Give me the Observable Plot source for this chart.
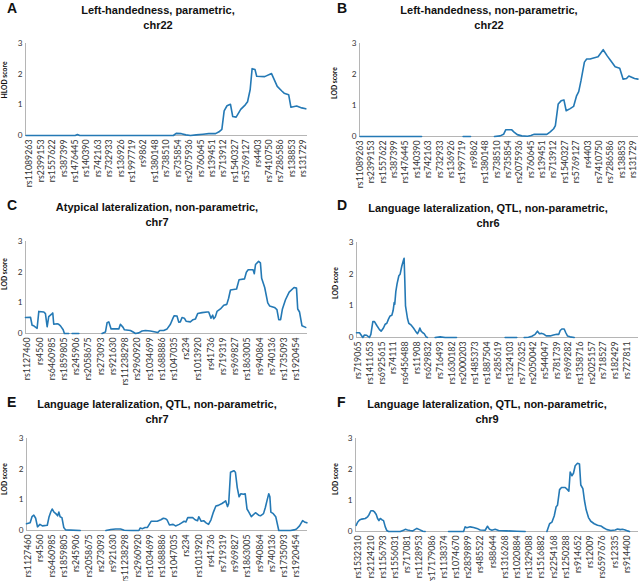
<!DOCTYPE html>
<html><head><meta charset="utf-8">
<script src="https://cdn.jsdelivr.net/npm/d3@7"></script>
<script src="https://cdn.jsdelivr.net/npm/@observablehq/plot@0.6"></script>
<style>
body{margin:0;background:#fff;}
#wrap{position:relative;width:640px;height:581px;overflow:hidden;background:#fff;}
</style></head>
<body><div id="wrap"></div>
<script>
// ---- tick labels (SNP names) ----
const labelsAB = ["rs11089263","rs2399153","rs1557622","rs387399","rs1476445","rs140390","rs742163","rs732933","rs136926","rs1997719","rs9862","rs1380148","rs738510","rs735854","rs2075936","rs760645","rs139451","rs713912","rs1540327","rs5769127","rs4403","rs7410750","rs7286586","rs138853","rs131729"];
const labelsCE = ["rs1127460","rs4560","rs6460985","rs1859805","rs245906","rs2058675","rs273093","rs921630","rs11238298","rs2960920","rs1034699","rs1688886","rs1047035","rs234","rs1013920","rs41736","rs719319","rs969827","rs1863005","rs940864","rs740136","rs1735093","rs1920454"];
const labelsD = ["rs719065","rs1411653","rs6925615","rs74111","rs6456488","rs11908","rs629832","rs716493","rs1630182","rs2000203","rs1485373","rs1887504","rs285619","rs1324103","rs7776325","rs2050042","rs544047","rs781739","rs969282","rs1358716","rs2025157","rs718527","rs182429","rs727811"];
const labelsF = ["rs1532310","rs2124210","rs1156793","rs1556031","rs717081","rs1128953","rs17179086","rs1138374","rs1074670","rs2839899","rs485522","rs88644","rs1316268","rs1020884","rs1329088","rs1516882","rs2254168","rs1250288","rs914652","rs12009","rs6597676","rs12335","rs914400"];
const yTicks = [0, 1, 2, 3];

// ---- series: [marker position (in labelled-SNP units), score]; NaN = no data ----
const lodA = [[-0.3,0],[4.0,0],[4.2,0.03],[4.4,0],[12.6,0],[12.85,0.07],[13.3,0.06],[13.7,0.02],[14.1,0],[14.6,0.02],[15.2,0.04],[15.7,0.06],[16.3,0.06],[16.6,0.12],[16.85,0.2],[17.05,0.8],[17.3,0.97],[17.6,1.02],[17.8,0.62],[18.1,0.6],[18.5,0.85],[18.9,1.0],[19.1,1.1],[19.33,1.5],[19.5,2.18],[19.75,2.15],[19.9,1.93],[20.6,1.92],[21.2,2.02],[21.7,1.6],[22.1,1.45],[22.3,1.38],[22.7,1.33],[22.9,0.92],[23.4,0.96],[23.85,0.9],[24.2,0.87]];
const lodB = [[0,0],[5.4,0],[7,NaN],[9.05,0],[9.7,0],[10.7,NaN],[11.8,0],[12.3,0.02],[12.6,0.07],[12.8,0.22],[13.3,0.22],[13.5,0.15],[13.8,0.06],[14.2,0.02],[14.7,0.01],[15.0,0.03],[15.3,0.07],[16.4,0.07],[16.7,0.15],[17.0,0.25],[17.15,0.35],[17.4,1.05],[17.65,1.15],[17.9,1.18],[18.1,0.83],[18.45,0.9],[18.75,0.97],[19.0,1.3],[19.2,1.45],[19.4,1.8],[19.7,2.4],[19.9,2.5],[20.2,2.5],[20.5,2.53],[20.9,2.57],[21.35,2.8],[21.7,2.6],[22.0,2.45],[22.4,2.25],[22.8,2.2],[23.1,1.85],[23.4,1.87],[23.6,1.95],[24.1,1.87],[24.4,1.85]];
const lodC = [[-0.16,0.52],[0.25,0.53],[0.38,0.27],[0.52,0.25],[0.79,0.17],[0.93,0.72],[1.34,0.7],[1.47,0.65],[1.61,0.22],[1.74,0.55],[2.02,0.65],[2.07,0.67],[2.15,0.3],[2.43,0.32],[2.56,0.3],[2.7,0.25],[2.92,0.12],[3.02,0],[3.38,0],[3.5,NaN],[3.65,0],[4.2,0],[5.0,NaN],[6.1,0],[6.38,0.05],[6.51,0.35],[6.65,0.38],[6.84,0.15],[7.47,0.15],[7.6,0.3],[7.82,0.2],[7.93,0.12],[8.42,0.1],[8.64,0.05],[8.83,0],[9.1,0.02],[9.37,0.08],[9.65,0.1],[10.05,0.08],[10.46,0.05],[10.65,0.03],[10.82,0.1],[11.14,0.1],[11.42,0.15],[11.69,0.3],[11.9,0.5],[12.0,0.58],[12.23,0.57],[12.37,0.37],[12.5,0.38],[12.64,0.52],[12.83,0.5],[12.97,0.4],[13.32,0.38],[13.54,0.45],[13.73,0.47],[13.92,0.65],[14.28,0.68],[14.69,0.7],[14.82,0.7],[15.01,0.5],[15.15,0.6],[15.23,0.48],[15.37,0.55],[15.5,0.72],[15.78,0.8],[16.05,0.92],[16.3,0.95],[16.45,1.15],[16.6,1.42],[17.1,1.45],[17.3,1.75],[17.75,1.78],[17.9,2.0],[18.05,2.08],[18.45,2.08],[18.55,1.95],[18.65,2.25],[18.9,2.35],[19.05,2.3],[19.15,1.8],[19.4,1.5],[19.65,1.0],[19.8,0.9],[20.2,0.85],[20.4,0.78],[20.55,0.45],[20.7,0.45],[20.85,0.8],[21.1,1.1],[21.4,1.35],[21.8,1.5],[22.0,1.48],[22.1,0.8],[22.25,0.7],[22.45,0.25],[22.75,0.2]];
const lodD = [[-0.17,0.15],[0.09,0.15],[0.37,0],[0.51,0.08],[0.71,0.07],[0.94,0],[1.06,0.1],[1.23,0.5],[1.37,0.5],[1.57,0.38],[1.8,0.25],[1.94,0.2],[2.14,0.3],[2.29,0.42],[2.43,0.45],[2.57,0.58],[2.71,0.68],[2.86,0.7],[2.97,0.85],[3.06,1.1],[3.11,1.05],[3.2,1.45],[3.31,1.7],[3.46,1.95],[3.57,2.0],[3.71,2.25],[3.86,2.45],[3.91,2.5],[3.97,1.8],[4.03,1.0],[4.2,0.6],[4.31,0.45],[4.49,0.4],[4.71,0.3],[4.89,0.2],[5.06,0.12],[5.17,0.2],[5.26,0.3],[5.37,0.2],[5.51,0.15],[5.63,0.12],[5.8,0.02],[5.91,0],[6.2,NaN],[6.57,0],[7.0,0.02],[7.43,0],[8.4,0],[10,NaN],[12.57,0],[13.57,0],[14.0,NaN],[14.2,0],[14.57,0.01],[14.86,0.04],[15.14,0.1],[15.34,0.2],[15.51,0.12],[15.71,0.13],[15.91,0.1],[16.09,0.05],[16.43,0.05],[16.71,0.08],[17.0,0.1],[17.17,0.1],[17.29,0.22],[17.43,0.27],[17.63,0.27],[17.77,0.15],[17.91,0.05],[18.14,0.02],[18.49,0]];
const lodE = [[-0.1,0.22],[0.2,0.25],[0.35,0.45],[0.5,0.5],[0.65,0.4],[0.8,0.12],[1.0,0.2],[1.2,0.15],[1.6,0.17],[1.75,0.45],[1.9,0.62],[2.0,0.7],[2.15,0.6],[2.3,0.55],[2.45,0.48],[2.55,0.6],[2.65,0.45],[2.8,0.42],[2.95,0.1],[3.1,0.02],[4.3,0],[5.5,NaN],[6.4,0],[6.8,0.03],[7.2,0.05],[7.6,0.05],[7.9,0.01],[8.5,0],[9.1,0],[9.2,0.08],[9.4,0.06],[9.6,0.1],[9.8,0.1],[10.1,0.3],[10.6,0.3],[10.9,0.35],[11.1,0.4],[11.3,0.38],[11.4,0.35],[11.6,0.18],[11.9,0.2],[12.1,0.15],[12.4,0.2],[12.6,0.25],[12.8,0.3],[12.95,0.28],[13.1,0.42],[13.5,0.42],[13.7,0.35],[13.9,0.32],[14.0,0.45],[14.2,0.3],[14.4,0.32],[14.6,0.25],[14.8,0.2],[15.0,0.35],[15.2,0.6],[15.4,0.8],[15.6,0.82],[15.9,0.88],[16.05,0.92],[16.2,0.97],[16.35,0.78],[16.45,0.88],[16.6,1.9],[16.87,1.95],[17.0,1.9],[17.15,1.4],[17.3,1.1],[17.45,1.2],[17.65,1.18],[17.8,1.2],[17.95,0.7],[18.1,0.6],[18.3,0.45],[18.64,0.58],[18.9,0.5],[19.05,0.48],[19.3,0.55],[19.45,0.75],[19.6,1.0],[19.73,1.2],[19.82,1.1],[19.9,0.6],[20.1,0.55],[20.3,0.45],[20.55,0],[21.0,0],[21.5,0],[21.8,0.02],[22.0,0.05],[22.25,0.15],[22.5,0.32],[22.65,0.28],[22.85,0.25]];
const lodF = [[-0.19,0.2],[-0.08,0.3],[0.08,0.37],[0.27,0.4],[0.55,0.42],[0.74,0.47],[0.87,0.55],[1.01,0.67],[1.17,0.67],[1.31,0.63],[1.45,0.55],[1.56,0.42],[1.67,0.35],[1.78,0.42],[1.91,0.38],[2.05,0.35],[2.19,0.15],[2.32,0.03],[2.46,0],[3.42,0],[3.69,0.04],[3.83,0.07],[4.02,0.05],[4.23,0.03],[4.45,0.02],[4.64,0.07],[4.78,0.1],[5.0,0.06],[5.27,0.01],[5.46,0],[6.5,NaN],[7.38,0],[8.61,0],[8.74,0.15],[8.88,0.12],[9.15,0.15],[9.43,0.13],[9.7,0.1],[9.97,0.05],[10.38,0.04],[10.57,0.17],[10.74,0.07],[10.93,0.04],[11.2,0.07],[11.48,0.03],[12.16,0.02],[12.98,0.01],[13.66,0],[14.5,NaN],[15.44,0],[15.66,0.25],[15.85,0.3],[16.04,0.5],[16.2,0.8],[16.31,0.85],[16.48,1.35],[16.64,1.42],[16.94,1.42],[17.13,1.35],[17.24,1.3],[17.35,1.92],[17.49,1.8],[17.62,1.88],[17.76,2.12],[17.95,2.2],[18.11,2.18],[18.22,1.5],[18.39,1.38],[18.52,1.0],[18.66,0.7],[18.85,0.45],[19.04,0.33],[19.32,0.25],[19.59,0.2],[19.86,0.18],[20.08,0.12],[20.36,0.06],[20.68,0.03],[21.04,0.05],[21.23,0.08],[21.45,0.06],[21.64,0.07],[21.86,0.05],[22.05,0.02],[22.21,0]];

// ---- panel texts ----
const letters = ["A","B","C","D","E","F"];
const titles = [
  ["Left-handedness, parametric,", "chr22"],
  ["Left-handedness, non-parametric,", "chr22"],
  ["Atypical lateralization, non-parametric,", "chr7"],
  ["Language lateralization, QTL, non-parametric,", "chr6"],
  ["Language lateralization, QTL, non-parametric,", "chr7"],
  ["Language lateralization, QTL, non-parametric,", "chr9"]
];
const yTitles = ["HLOD score","LOD score","LOD score","LOD score","LOD score","LOD score"];

const FONT = "Lato, 'Liberation Sans', Arial, sans-serif";
const TFONT = "'Liberation Sans', Arial, sans-serif";
const LINE = "#2479b5";
const AXIS = "#b5b5b5";

// layout
const panels = [
  {x:0,   y:0,   w:320, h:195, ml:25, mr:13, mt:43, mb:60, xdom:[-0.35,24.35], labels:labelsAB, series:lodA, tx:158, ty:14, yl:[5,80]},
  {x:320, y:0,   w:320, h:195, ml:39, mr:2,  mt:43, mb:59, xdom:[-0.05,24.45], labels:labelsAB, series:lodB, tx:169, ty:14, yl:[15,83]},
  {x:0,   y:195, w:320, h:195, ml:25, mr:13, mt:46, mb:57, xdom:[-0.16,22.9],  labels:labelsCE, series:lodC, tx:157, ty:16, yl:[5,79]},
  {x:320, y:195, w:320, h:195, ml:36, mr:2,  mt:47, mb:53, xdom:[-0.17,24.0],  labels:labelsD,  series:lodD, tx:168, ty:17, yl:[16,88]},
  {x:0,   y:390, w:320, h:191, ml:26, mr:13, mt:48, mb:51, xdom:[-0.1,22.9],   labels:labelsCE, series:lodE, tx:157, ty:18, yl:[5,89]},
  {x:320, y:390, w:320, h:191, ml:35, mr:2,  mt:48, mb:50, xdom:[-0.25,22.95], labels:labelsF,  series:lodF, tx:167, ty:18, yl:[16,89]}
];

const wrap = document.getElementById("wrap");

panels.forEach((p, k) => {
  const rows = p.series.map(([m, v]) => ({m, v}));
  const chart = Plot.plot({
    width: p.w, height: p.h,
    marginLeft: p.ml, marginRight: p.mr, marginTop: p.mt, marginBottom: p.mb,
    x: {domain: p.xdom, axis: null},
    y: {domain: [0, 3]},
    style: {fontFamily: FONT, fontSize: "8.8px", color: "#333", background: "transparent"},
    marks: [
      Plot.ruleY([0], {stroke: AXIS}),
      Plot.ruleX([p.xdom[0]], {stroke: AXIS}),
      // category tick labels hanging below the axis, read bottom-to-top
      Plot.text(p.labels, {x: (d, i) => i, text: d => d, frameAnchor: "bottom", rotate: -90,
        textAnchor: "end", lineAnchor: "middle", dy: 4, fontSize: 8.8, fill: "#333"}),
      Plot.axisY({ticks: yTicks, tickFormat: d => String(d), tickSize: 0, tickPadding: 3, label: null, fontSize: 8.2}),
      Plot.line(rows, {x: "m", y: "v", stroke: LINE, strokeWidth: 1.6, strokeLinejoin: "round"})
    ]
  });
  chart.style.position = "absolute";
  chart.style.left = p.x + "px";
  chart.style.top = p.y + "px";
  wrap.appendChild(chart);
});

// overlay for panel letters, titles and y-axis titles
const svg = d3.select(wrap).append("svg")
  .attr("width", 640).attr("height", 581)
  .style("position", "absolute").style("left", 0).style("top", 0)
  .style("pointer-events", "none");

panels.forEach((p, k) => {
  const g = svg.append("g").attr("transform", `translate(${p.x},${p.y})`);
  g.append("text").attr("x", k % 2 ? 17 : 7).attr("y", k < 2 ? 13 : (k < 4 ? 15 : 17))
    .attr("font-family", TFONT)
    .attr("font-weight", "bold").attr("font-size", 14).attr("fill", "#111")
    .text(letters[k]);
  titles[k].forEach((t, j) => {
    g.append("text").attr("x", p.tx).attr("y", p.ty + j * 15)
      .attr("text-anchor", "middle").attr("font-family", TFONT)
      .attr("font-weight", "bold").attr("font-size", 11).attr("fill", "#111")
      .text(t);
  });
  g.append("text")
    .attr("transform", `translate(${p.yl[0]},${p.yl[1]}) rotate(-90)`)
    .attr("text-anchor", "middle").attr("dy", "0.35em")
    .attr("font-family", FONT).attr("font-weight", "bold").attr("font-size", 6.8).attr("fill", "#111")
    .text(yTitles[k]);
});
</script></body></html>
